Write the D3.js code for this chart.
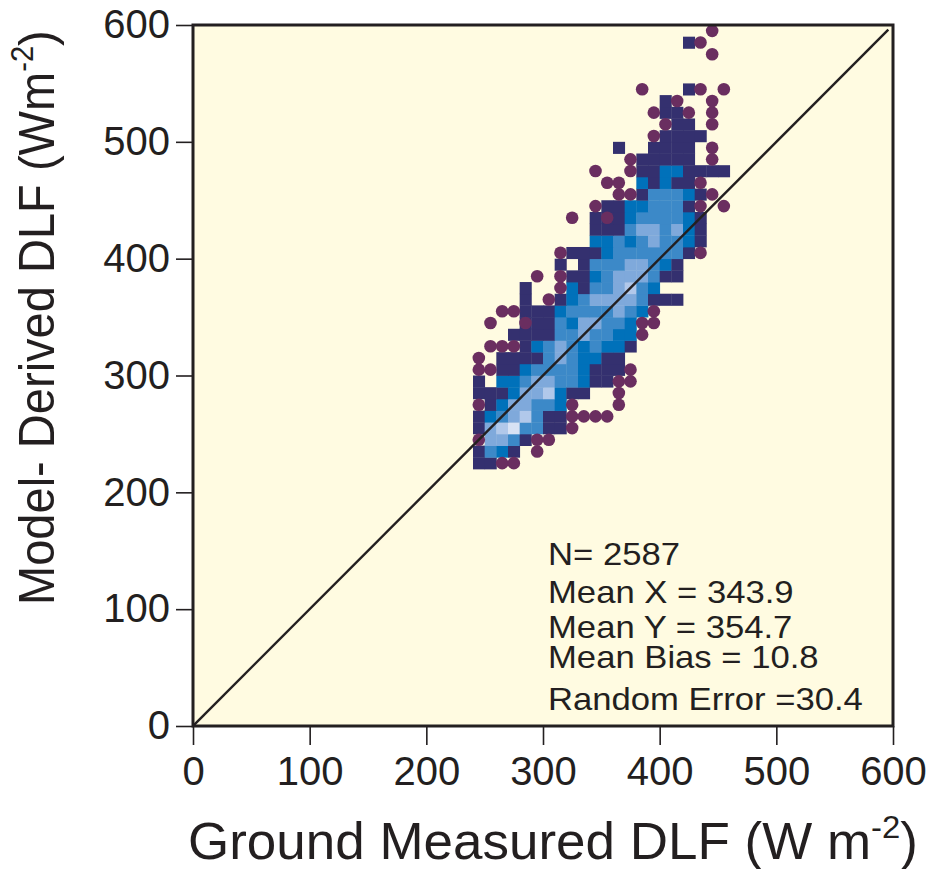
<!DOCTYPE html>
<html>
<head>
<meta charset="utf-8">
<script src="https://cdn.jsdelivr.net/npm/d3@7/dist/d3.min.js"></script>
<style>
  body { margin: 0; background: #ffffff; }
  svg text { font-family: "Liberation Sans", Arial, Helvetica, sans-serif; fill: #231f20; }
</style>
</head>
<body>
<svg id="chart" width="930" height="869"></svg>
<script>
// ---- data -------------------------------------------------------------
const xTicks = [0, 100, 200, 300, 400, 500, 600];
const yTicks = [0, 100, 200, 300, 400, 500, 600];

// 2-D histogram of (ground, model) pairs in 10 W m-2 bins.
// Each string is one model-DLF bin row, starting at firstBinY and going up;
// each character is one ground-DLF bin, starting at firstBinX.
//   '.' empty, 'o' single outlier point, '1'..'6' density class (low -> high),
//   'x' density class 1 with an outlier point on top.
const binWidth = 10;
const firstBinX = 240;
const firstBinY = 220;
const densityRows = [
  "11oo",                    // 220
  "1321.o",                  // 230
  "o4431oo",                 // 240
  "14563311o",               // 250
  "12345311oooo",            // 260
  "o1244332o...o",           // 270
  "1112445211..o",           // 280
  "1.2234433211oo",          // 290
  "oo11233332111o",          // 300
  "o.11113432211",           // 310
  ".ooo1234323221",          // 320
  "...11113343322o",         // 330
  ".o..x113244332oo",        // 340
  "..oo11123333432o",        // 350
  "....1.o12344443111",      // 360
  "....1..o21334532",        // 370
  ".....o.o1123444311",      // 380
  ".......1.133344321",      // 390
  ".......o11123333331o",    // 400
  "..........2232343321",    // 410
  "..........1113443421",    // 420
  "........o.1x12333321",    // 430
  "..........o11223331o.o",  // 440
  "............oo133321o",   // 450
  "...........oo.21211o",    // 460
  "..........o..o11221111",  // 470
  ".............o11111.o",   // 480
  "............1..1111.o",   // 490
  "...............o1111",    // 500
  "................o11.o",   // 510
  "...............o11o.o",   // 520
  "................1o..o",   // 530
  "..............o...1o.o",  // 540
  "",                        // 550
  "",                        // 560
  "....................o",   // 570
  "..................1o",    // 580
  "....................o"    // 590
];

const densityClasses = ["1", "2", "3", "4", "5", "6"];
const classColors = ["#34306f", "#0071ba", "#3c89c8", "#7fa9db", "#b1c8ea", "#d8e2f4"];
const outlierColor = "#6a2e60";

const statLines = [
  "N= 2587",
  "Mean X = 343.9",
  "Mean Y = 354.7",
  "Mean Bias = 10.8",
  "Random Error =30.4"
];

// ---- decode bins -------------------------------------------------------
const cells = [];
const outliers = [];
densityRows.forEach((row, i) => {
  const y0 = firstBinY + i * binWidth;
  [...row].forEach((ch, j) => {
    const x0 = firstBinX + j * binWidth;
    if (densityClasses.includes(ch)) cells.push({ x0, y0, cls: ch });
    else if (ch === "x") { cells.push({ x0, y0, cls: "1" }); outliers.push({ x0, y0 }); }
    else if (ch === "o") outliers.push({ x0, y0 });
  });
});

// ---- layout ------------------------------------------------------------
const svg = d3.select("#chart");
const plot = { left: 193, right: 893, top: 25, bottom: 726 };
const ink = "#231f20";

const x = d3.scaleLinear().domain([0, 600]).range([plot.left, plot.right]);
const y = d3.scaleLinear().domain([0, 600]).range([plot.bottom, plot.top]);
const color = d3.scaleOrdinal().domain(densityClasses).range(classColors);

// plot background
svg.append("rect")
  .attr("x", plot.left).attr("y", plot.top)
  .attr("width", plot.right - plot.left).attr("height", plot.bottom - plot.top)
  .attr("fill", "#fffbe1");

svg.append("clipPath").attr("id", "plotClip")
  .append("rect")
  .attr("x", plot.left).attr("y", plot.top)
  .attr("width", plot.right - plot.left).attr("height", plot.bottom - plot.top);

const inner = svg.append("g").attr("clip-path", "url(#plotClip)");

// density cells
inner.append("g")
  .selectAll("rect")
  .data(cells)
  .join("rect")
  .attr("x", d => x(d.x0))
  .attr("y", d => y(d.y0 + binWidth))
  .attr("width", d => x(d.x0 + binWidth) - x(d.x0) + 0.4)
  .attr("height", d => y(d.y0) - y(d.y0 + binWidth) + 0.4)
  .attr("fill", d => color(d.cls));

// single outlier points
const dotR = (x(binWidth) - x(0)) * 0.54;
inner.append("g")
  .selectAll("circle")
  .data(outliers)
  .join("circle")
  .attr("cx", d => x(d.x0 + binWidth / 2))
  .attr("cy", d => y(d.y0 + binWidth / 2))
  .attr("r", dotR)
  .attr("fill", outlierColor);

// 1:1 line
inner.append("line")
  .attr("x1", x(0)).attr("y1", y(0))
  .attr("x2", x(596)).attr("y2", y(596))
  .attr("stroke", ink).attr("stroke-width", 2.4);

// axes
const yAxis = svg.append("g")
  .attr("transform", `translate(${plot.left},0)`)
  .call(d3.axisLeft(y).tickValues(yTicks).tickSize(17).tickPadding(6).tickFormat(d3.format("d")));
yAxis.select(".domain").remove();
yAxis.selectAll("line").attr("stroke", ink).attr("stroke-width", 1.6);
yAxis.selectAll("text").attr("font-size", 40).attr("fill", ink)
  .style("font-family", '"Liberation Sans", Arial, sans-serif');

const xAxis = svg.append("g")
  .attr("transform", `translate(0,${plot.bottom})`)
  .call(d3.axisBottom(x).tickValues(xTicks).tickSize(19).tickPadding(12).tickFormat(d3.format("d")));
xAxis.select(".domain").remove();
xAxis.selectAll("line").attr("stroke", ink).attr("stroke-width", 1.6);
xAxis.selectAll("text").attr("font-size", 40).attr("fill", ink)
  .style("font-family", '"Liberation Sans", Arial, sans-serif');

// frame
svg.append("rect")
  .attr("x", plot.left).attr("y", plot.top)
  .attr("width", plot.right - plot.left).attr("height", plot.bottom - plot.top)
  .attr("fill", "none").attr("stroke", ink).attr("stroke-width", 3);

// statistics block, widened slightly to the span of the longest line
const statBaselines = [565, 603, 638, 668, 710];
const statG = svg.append("g");
statG.selectAll("text")
  .data(statLines)
  .join("text")
  .attr("x", 0)
  .attr("y", (d, i) => statBaselines[i])
  .attr("font-size", 32)
  .attr("fill", "#111")
  .text(d => d);
const statW = d3.max(statG.selectAll("text").nodes(), n => n.getComputedTextLength());
statG.attr("transform", `translate(548,0) scale(${315 / statW},1)`);

// axis titles with superscript units, stretched to their measured span
function titleWithUnit(g, main, sup, tail, size) {
  const t = g.append("text").attr("font-size", size);
  t.append("tspan").text(main);
  t.append("tspan").attr("font-size", size * 0.62).attr("dy", -size * 0.42).text(sup);
  t.append("tspan").attr("dy", size * 0.42).text(tail);
  return t;
}

const xTitleG = svg.append("g");
const xTitle = titleWithUnit(xTitleG, "Ground Measured DLF (W m", "-2", ")", 51);
const xw = xTitle.node().getComputedTextLength();
xTitleG.attr("transform", `translate(188,859) scale(${730 / xw},1)`);

const yTitleG = svg.append("g");
const yTitle = titleWithUnit(yTitleG, "Model- Derived DLF (Wm", "-2", ")", 50);
const yw = yTitle.node().getComputedTextLength();
yTitleG.attr("transform", `translate(54,605) rotate(-90) scale(${575 / yw},1)`);
</script>
</body>
</html>
